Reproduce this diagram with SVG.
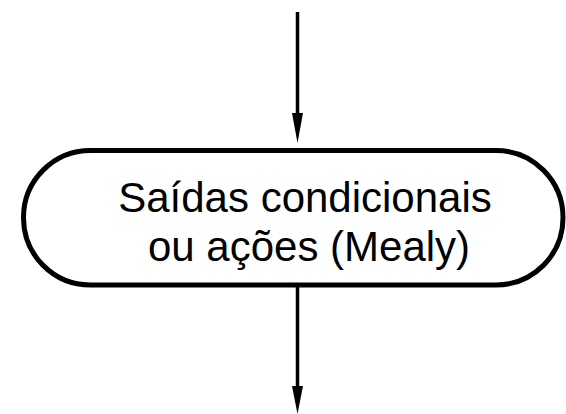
<svg xmlns="http://www.w3.org/2000/svg" width="566" height="414" viewBox="0 0 566 414">
<style>
.edge{stroke:#000;stroke-width:3.5;fill:none}
.head{fill:#000;stroke:none}
.node{fill:#fff;stroke:#000;stroke-width:5}
.label{font-family:"Liberation Sans",Arial,sans-serif;font-size:42px;fill:#000;text-anchor:middle}
</style>
<g id="connectors">
<line class="edge" x1="297.5" y1="12" x2="297.5" y2="116"/>
<polygon class="head" points="292,113 303,113 297.5,143"/>
<line class="edge" x1="297.5" y1="287" x2="297.5" y2="389"/>
<polygon class="head" points="292,386 303,386 297.5,414"/>
</g>
<g id="node1">
<rect class="node" x="23.5" y="150.5" width="539.5" height="134.5" rx="67" ry="67"/>
<text class="label" x="305" y="211.5">Saídas condicionais</text>
<text class="label" x="309" y="260.5">ou ações (Mealy)</text>
</g>
</svg>
